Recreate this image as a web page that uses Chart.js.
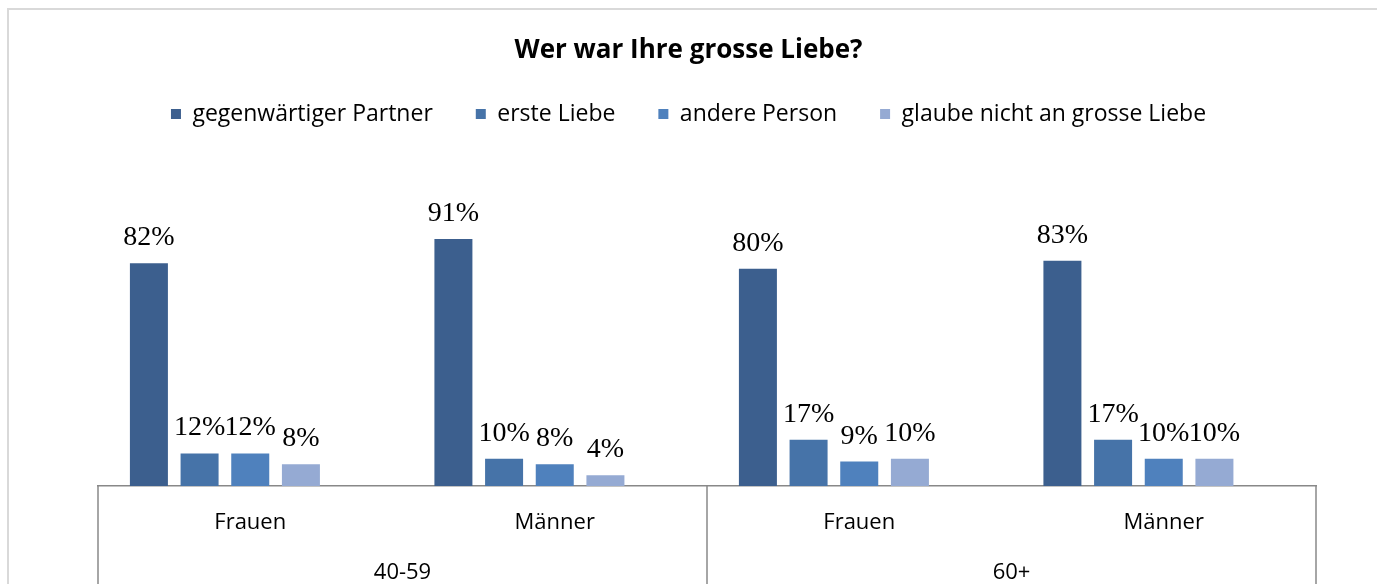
<!DOCTYPE html>
<html><head><meta charset="utf-8">
<script src="https://cdn.jsdelivr.net/npm/chart.js@4"></script>
<style>html,body{margin:0;padding:0;background:#fff;overflow:hidden}#wrap{width:1377px;height:584px;position:relative}</style>
</head><body><div id="wrap"><canvas id="c"></canvas></div>
<script>
const titleText = 'Wer war Ihre grosse Liebe?';
const categories = ['Frauen', 'Männer', 'Frauen', 'Männer'];
const ageGroups = ['40-59', '60+'];
const seriesNames = ['gegenwärtiger Partner', 'erste Liebe', 'andere Person', 'glaube nicht an grosse Liebe'];
const gegenwaertigerPartner = [82, 91, 80, 83];
const ersteLiebe = [12, 10, 17, 17];
const anderePerson = [12, 8, 9, 10];
const glaubeNichtAnGrosseLiebe = [8, 4, 10, 10];
const emptySlot = [null, null, null, null];

const seriesColors = ['#3c5f8e', '#4673a8', '#4f81bd', '#95aad3'];
const axisColor = '#888888';
const sansFont = '"Open Sans"';

const frame = {
  id: 'frame',
  beforeDraw(chart) {
    const c = chart.ctx;
    c.save();
    c.strokeStyle = '#d9d9d9';
    c.lineWidth = 2;
    c.strokeRect(8, 9, 3000, 3000);
    c.restore();
  }
};

// vertical separators of the two-level category axis, at the age-group boundaries of scale x2
const groupSeparators = {
  id: 'groupSeparators',
  afterDraw(chart) {
    const s = chart.scales.x2;
    const c = chart.ctx;
    const xs = [s.left];
    for (let i = 1; i < ageGroups.length; i++) {
      xs.push((s.getPixelForValue(i - 1) + s.getPixelForValue(i)) / 2);
    }
    xs.push(s.right);
    c.save();
    c.strokeStyle = axisColor;
    c.lineWidth = 1.5;
    xs.forEach(x => {
      c.beginPath();
      c.moveTo(x, chart.chartArea.bottom);
      c.lineTo(x, chart.height);
      c.stroke();
    });
    c.restore();
  }
};

const valueLabels = {
  id: 'valueLabels',
  afterDatasetsDraw(chart) {
    const c = chart.ctx;
    c.save();
    c.font = '28px "Liberation Serif"';
    c.fillStyle = '#000';
    c.textAlign = 'center';
    c.textBaseline = 'alphabetic';
    chart.data.datasets.forEach((ds, i) => {
      const meta = chart.getDatasetMeta(i);
      meta.data.forEach((bar, j) => {
        const v = ds.data[j];
        if (v === null || v === undefined) return;
        c.fillText(v + '%', bar.x, bar.y - 18);
      });
    });
    c.restore();
  }
};

const seriesData = [gegenwaertigerPartner, ersteLiebe, anderePerson, glaubeNichtAnGrosseLiebe];
const datasets = seriesData.map((d, i) => ({
  label: seriesNames[i],
  data: d,
  backgroundColor: seriesColors[i],
  borderWidth: 0,
  xAxisID: 'x',
  yAxisID: 'y'
}));
datasets.push({ label: '', data: emptySlot, backgroundColor: 'rgba(0,0,0,0)', xAxisID: 'x', yAxisID: 'y' });

new Chart(document.getElementById('c'), {
  type: 'bar',
  data: { labels: categories, datasets },
  options: {
    responsive: true,
    maintainAspectRatio: false,
    animation: false,
    events: [],
    layout: { padding: { left: 61, right: 61, top: 0, bottom: -2.4 } },
    datasets: { bar: { categoryPercentage: 0.832, barPercentage: 0.75 } },
    plugins: {
      title: {
        display: true,
        text: titleText,
        color: '#000',
        font: { family: sansFont, size: 26, weight: 'bold', lineHeight: 1.2 },
        padding: { top: 35.4, bottom: -7.1 }
      },
      legend: {
        display: true,
        position: 'top',
        labels: {
          color: '#000',
          font: { family: sansFont, size: 23 },
          boxWidth: 10,
          boxHeight: 10,
          padding: 43,
          filter: item => item.text !== ''
        }
      },
      tooltip: { enabled: false }
    },
    scales: {
      x: {
        type: 'category',
        position: 'bottom',
        offset: true,
        grid: { display: false, drawTicks: false },
        border: { display: true, color: axisColor, width: 1.5 },
        ticks: { padding: 23.8, color: '#000', font: { family: sansFont, size: 22 } }
      },
      x2: {
        type: 'category',
        position: 'bottom',
        labels: ageGroups,
        offset: true,
        grid: { display: false, drawTicks: false },
        border: { display: false },
        ticks: { padding: 0, color: '#000', font: { family: sansFont, size: 22 } }
      },
      y: {
        display: true,
        min: 0,
        max: 129.1,
        grid: { display: false },
        border: { display: false },
        ticks: { display: false },
        afterFit: s => { s.width = 37; }
      }
    }
  },
  plugins: [frame, valueLabels, groupSeparators]
});
</script>
</body></html>
